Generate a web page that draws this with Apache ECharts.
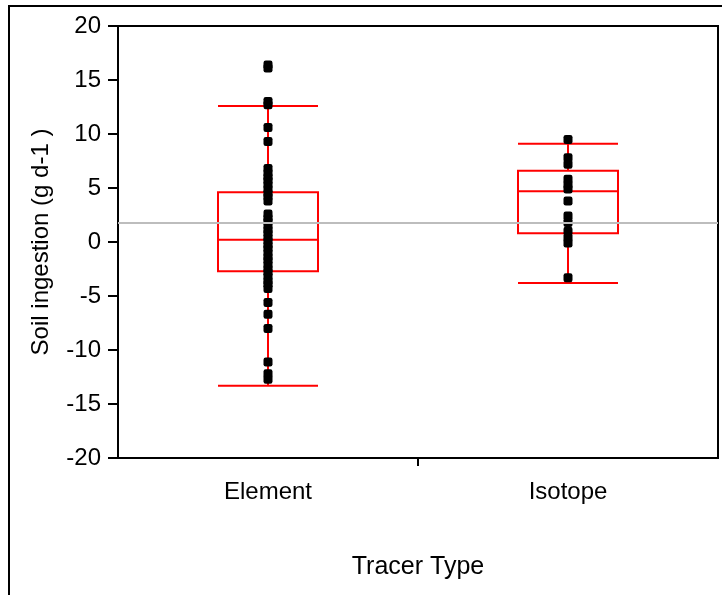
<!DOCTYPE html>
<html>
<head>
<meta charset="utf-8">
<script src="https://cdn.jsdelivr.net/npm/echarts@6/dist/echarts.min.js"></script>
<style>
html,body{margin:0;padding:0;background:#fff;}
#c{width:722px;height:595px;}
</style>
</head>
<body>
<div id="c"></div>
<script>
var categories = ['Element', 'Isotope'];
// box stats: [lower whisker, Q1, median, Q3, upper whisker]
var elementBox = [-13.3, -2.7, 0.2, 4.6, 12.6];
var isotopeBox = [-3.8, 0.8, 4.7, 6.6, 9.1];
var elementPoints = [16.4, 16.1, 13.0, 12.7, 10.6, 9.3,
  6.8, 6.4, 6.0, 5.7, 5.3, 4.9, 4.5, 4.2, 3.8,
  2.6, 2.2, 1.9, 1.5, 1.1, 0.8, 0.4, 0.1, -0.3, -0.6, -1.0, -1.4, -1.7, -2.1, -2.5, -2.8, -3.2, -3.6, -3.9, -4.3,
  -5.6, -6.7, -8.0, -11.1, -12.2, -12.7];
var isotopePoints = [9.5, 7.8, 7.2, 5.8, 5.3, 4.9, 3.8, 2.4, 1.8, 1.0, 0.4, -0.1, -3.3];
var overallMean = 1.75;
var yTicks = {min: -20, max: 20, interval: 5};

var chart = echarts.init(document.getElementById('c'));
var font = 'Liberation Sans, Arial, sans-serif';
var scatterData = [];
elementPoints.forEach(function(v){ scatterData.push([categories[0], v]); });
isotopePoints.forEach(function(v){ scatterData.push([categories[1], v]); });

chart.setOption({
  animation: false,
  backgroundColor: '#fff',
  grid: {left: 118, right: 4, top: 26, bottom: 137, show: true, borderColor: '#000', borderWidth: 2, backgroundColor: 'transparent'},
  xAxis: [{
    type: 'category', data: categories, boundaryGap: true,
    name: 'Tracer Type', nameLocation: 'middle', nameGap: 97,
    nameTextStyle: {fontFamily: font, fontSize: 25, color: '#000'},
    axisLine: {onZero: false, lineStyle: {color: '#000', width: 2}},
    axisTick: {show: false},
    axisLabel: {fontFamily: font, fontSize: 24, color: '#000', margin: 22},
    splitLine: {show: false}
  }, {
    type: 'value', position: 'bottom', min: 0, max: 2, interval: 1,
    axisLine: {show: false, onZero: false},
    axisTick: {show: true, length: 8, customValues: [1], lineStyle: {color: '#000', width: 2}},
    axisLabel: {show: false},
    splitLine: {show: false}
  }],
  yAxis: {
    type: 'value', min: yTicks.min, max: yTicks.max, interval: yTicks.interval,
    name: 'Soil ingestion (g d-1 )', nameLocation: 'middle', nameGap: 65,
    nameTextStyle: {fontFamily: font, fontSize: 24, color: '#000'},
    axisLine: {show: true, lineStyle: {color: '#000', width: 2}},
    axisTick: {show: true, length: 10, lineStyle: {color: '#000', width: 2}},
    axisLabel: {fontFamily: font, fontSize: 24, color: '#000', margin: 17},
    splitLine: {show: false}
  },
  graphic: [
    {type: 'line', shape: {x1: 8, y1: 6, x2: 722, y2: 6}, style: {stroke: '#000', lineWidth: 2}},
    {type: 'line', shape: {x1: 9, y1: 6, x2: 9, y2: 595}, style: {stroke: '#000', lineWidth: 2}}
  ],
  series: [
    {
      type: 'boxplot', data: [elementBox, isotopeBox], boxWidth: [100, 100],
      itemStyle: {color: 'transparent', borderColor: '#ff0000', borderWidth: 2},
      z: 2,
      markLine: {
        silent: true, symbol: 'none', label: {show: false},
        lineStyle: {color: '#bdbdbd', width: 2, type: 'solid'},
        data: [{yAxis: overallMean}]
      }
    },
    {
      type: 'scatter', data: scatterData, symbol: 'roundRect', symbolSize: [9, 9],
      itemStyle: {color: '#000', opacity: 1}, z: 3
    }
  ]
});
</script>
</body>
</html>
